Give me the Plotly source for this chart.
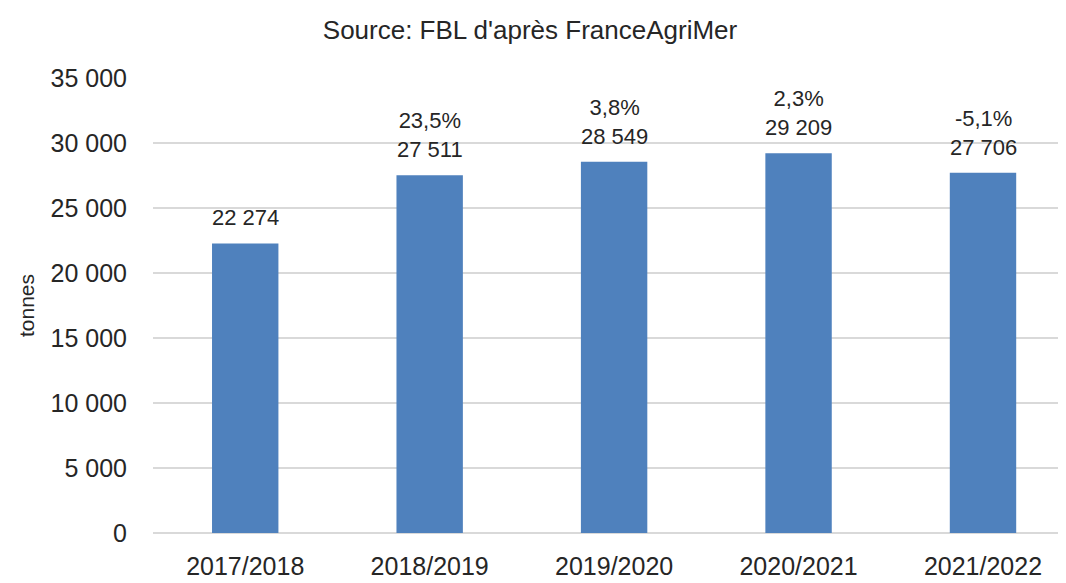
import plotly.graph_objects as go

categories = ["2017/2018", "2018/2019", "2019/2020", "2020/2021", "2021/2022"]
values = [22274, 27511, 28549, 29209, 27706]
changes = ["", "23,5%", "3,8%", "2,3%", "-5,1%"]
tick_vals = [0, 5000, 10000, 15000, 20000, 25000, 30000, 35000]

def fmt(v):
    return f"{v:,}".replace(",", " ")

labels = [(c + "<br>" if c else "") + fmt(v) for c, v in zip(changes, values)]

FONT = "Liberation Sans Narrow, Arial Narrow, Liberation Sans, Arial, sans-serif"
TXT = "#262626"

fig = go.Figure()
fig.add_trace(go.Bar(x=categories, y=values, marker_color="#4F81BD", width=0.36,
                     marker_line_width=0, hoverinfo="skip"))
for c, v, t in zip(categories, values, labels):
    fig.add_annotation(x=c, y=v, text=t, showarrow=False, yanchor="bottom", yshift=11,
                       font=dict(family=FONT, size=22, color=TXT))

# the page adds an 8px body margin, so the figure is sized to fit the window
fig.update_layout(
    width=1058, height=575,
    margin=dict(l=145, r=0, t=70, b=50),
    paper_bgcolor="white", plot_bgcolor="white",
    separators=", ",
    showlegend=False,
    font=dict(family=FONT, color=TXT),
    title=dict(text="Source: FBL d'après FranceAgriMer", x=(530 - 8) / 1058, xanchor="center",
               y=1 - 22 / 575, yanchor="middle", font=dict(family=FONT, size=26, color=TXT)),
)
fig.update_yaxes(range=[0, 35000], tickvals=tick_vals, tickformat=",d",
                 showgrid=True, gridcolor="#D9D9D9", gridwidth=1.5,
                 zeroline=True, zerolinecolor="#D9D9D9", zerolinewidth=1.5,
                 tickfont=dict(family=FONT, size=25, color=TXT),
                 ticklabelstandoff=25,
                 title=dict(text="tonnes", font=dict(family=FONT, size=21, color=TXT), standoff=10))
fig.update_xaxes(range=[-0.5, 4.45], showgrid=False, showline=False,
                 tickfont=dict(family=FONT, size=25, color=TXT), ticklabelstandoff=16)

fig.write_html("out.html")
